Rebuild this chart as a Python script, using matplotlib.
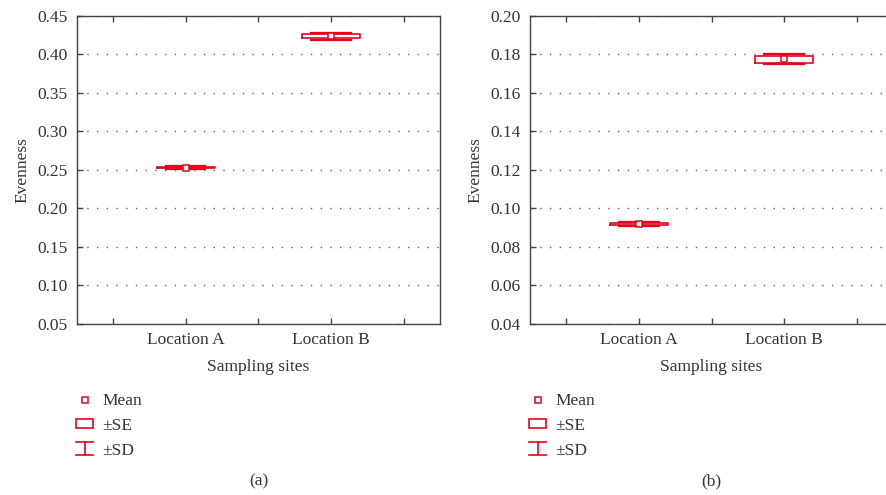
import matplotlib
matplotlib.use("Agg")
import matplotlib.pyplot as plt
from matplotlib.lines import Line2D
from matplotlib.patches import Patch
from matplotlib.legend_handler import HandlerBase

plt.rcParams["font.family"] = ["Liberation Serif", "DejaVu Serif"]

RED = "#e3051c"
TEXT = "#333333"

sites = ["Location A", "Location B"]

# panel (a)
mean_a = [0.2532, 0.4240]
se_lo_a = [0.2522, 0.4212]
se_hi_a = [0.2543, 0.4265]
sd_lo_a = [0.2511, 0.4190]
sd_hi_a = [0.2553, 0.4283]

# panel (b)
mean_b = [0.0921, 0.1777]
se_lo_b = [0.0913, 0.1757]
se_hi_b = [0.0926, 0.1792]
sd_lo_b = [0.0909, 0.1752]
sd_hi_b = [0.0930, 0.1803]

yticks_a = [0.05, 0.10, 0.15, 0.20, 0.25, 0.30, 0.35, 0.40, 0.45]
yticks_b = [0.04, 0.06, 0.08, 0.10, 0.12, 0.14, 0.16, 0.18, 0.20]

FS = 12.5


class HandlerSD(HandlerBase):
    def create_artists(self, legend, orig_handle, xdescent, ydescent,
                       width, height, fontsize, trans):
        x0, x1 = -xdescent, -xdescent + width
        xm = (x0 + x1) / 2
        y0, y1 = -ydescent - 1, -ydescent + height + 1
        kw = dict(color=RED, lw=1.2, transform=trans)
        return [Line2D([x0, x1], [y0, y0], **kw),
                Line2D([x0, x1], [y1, y1], **kw),
                Line2D([xm, xm], [y0, y1], **kw)]


def panel(ax, means, se_lo, se_hi, sd_lo, sd_hi, yticks, tag):
    stats = []
    for i, name in enumerate(sites):
        stats.append(dict(label=name, mean=means[i], med=means[i],
                          q1=se_lo[i], q3=se_hi[i],
                          whislo=sd_lo[i], whishi=sd_hi[i], fliers=[]))
    ax.bxp(stats, positions=[1, 2], widths=0.40, capwidths=0.27,
           showmeans=True, patch_artist=False,
           boxprops=dict(color=RED, lw=1.2),
           whiskerprops=dict(color=RED, lw=1.2),
           capprops=dict(color=RED, lw=1.6),
           medianprops=dict(lw=0),
           meanprops=dict(marker="s", markersize=4, markerfacecolor="white",
                          markeredgecolor=RED, markeredgewidth=1.1))
    ax.set_xlim(0.25, 2.75)
    ax.set_ylim(yticks[0], yticks[-1])
    ax.set_yticks(yticks)
    ax.set_yticklabels([f"{v:.2f}" for v in yticks])
    ax.set_xticks([1, 2])
    ax.set_xticklabels(sites)
    ax.set_xticks([0.5, 1.5, 2.5], minor=True)
    ax.tick_params(which="both", direction="in", top=True, length=4,
                   width=1, color="#444444", labelsize=FS, labelcolor=TEXT,
                   pad=7)
    ax.tick_params(axis="x", which="major", pad=6)
    for sp in ax.spines.values():
        sp.set_color("#444444")
        sp.set_linewidth(1)
    ax.grid(axis="y", color="#666666", linestyle=(0, (1, 6)), lw=1)
    ax.set_ylabel("Evenness", fontsize=FS, color=TEXT, labelpad=5)
    ax.set_xlabel("Sampling sites", fontsize=FS, color=TEXT, labelpad=8)

    handles = [Line2D([], [], ls="none", marker="s", markersize=4,
                      markerfacecolor="white", markeredgecolor=RED,
                      markeredgewidth=1.1),
               Patch(facecolor="white", edgecolor=RED, lw=1.2),
               "sd"]
    ax.legend(handles, ["Mean", "±SE", "±SD"],
              handler_map={str: HandlerSD()},
              loc="upper left", bbox_to_anchor=(-0.04, -0.18),
              frameon=False, fontsize=FS, handlelength=0.95,
              handleheight=0.45, handletextpad=0.55, labelspacing=0.5,
              labelcolor=TEXT, borderpad=0.3)
    ax.text(0.5, -0.51, tag, transform=ax.transAxes, ha="center",
            va="center", fontsize=FS, color=TEXT)


fig = plt.figure(figsize=(8.86, 4.95), dpi=100)
ax1 = fig.add_axes([0.0869, 0.3455, 0.4097, 0.6222])
ax2 = fig.add_axes([0.5982, 0.3455, 0.4097, 0.6222])

panel(ax1, mean_a, se_lo_a, se_hi_a, sd_lo_a, sd_hi_a, yticks_a, "(a)")
panel(ax2, mean_b, se_lo_b, se_hi_b, sd_lo_b, sd_hi_b, yticks_b, "(b)")

fig.savefig("out.png", dpi=100)
